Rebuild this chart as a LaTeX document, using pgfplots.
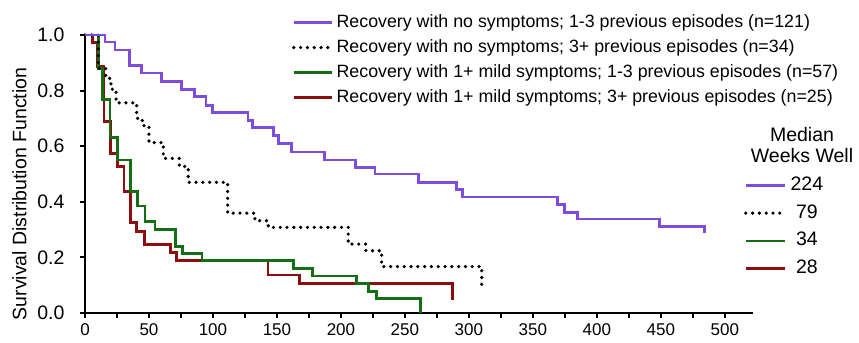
\documentclass[border=0pt]{standalone}
\usepackage{fontspec}
\setmainfont{Liberation Sans}
\usepackage{pgfplots}
\pgfplotsset{compat=1.18}
\definecolor{cpurple}{RGB}{128,76,220}
\definecolor{cgreen}{RGB}{20,110,20}
\definecolor{cred}{RGB}{140,15,15}
\begin{document}
\begin{tikzpicture}
\begin{axis}[
  scale only axis, width=668bp, height=278bp,
  xmin=0, xmax=522, ymin=0, ymax=1,
  axis x line*=bottom, axis y line*=left,
  axis line style={line width=2.2bp, black, -},
  every tick/.style={black, line width=2bp},
  tick align=outside,
  major tick length=5bp, minor tick length=5bp,
  xtick={0,50,...,500}, minor xtick={25,75,...,475},
  ytick={0,0.2,0.4,0.6,0.8,1.0},
  y tick label style={/pgf/number format/fixed, /pgf/number format/fixed zerofill, /pgf/number format/precision=1, font=\fontsize{19.5bp}{21bp}\selectfont, xshift=-12bp},
  x tick label style={font=\fontsize{17bp}{19bp}\selectfont, yshift=-4.5bp, inner sep=1bp},
  /pgf/number format/assume math mode=true,
  ylabel={Survival Distribution Function},
  every axis y label/.style={at={(axis description cs:-0.098,0.428)}, rotate=90, anchor=center, font=\fontsize{19.5bp}{22bp}\selectfont},
  clip=false,
  reverse legend,
  legend style={at={(axis description cs:0.3099,1.0745)}, anchor=north west, draw=none, fill=none,
    font=\fontsize{17.8bp}{20bp}\selectfont, row sep=8.5bp, inner sep=0pt, outer sep=0pt,
    nodes={inner sep=0pt, text height=12.8bp, text depth=3.7bp}, column sep=3bp},
  legend cell align=left,
  legend image code/.code={\draw[#1] (0bp,0bp) -- (38bp,0bp);},
]
\addplot[cred, line width=2.8bp, const plot] coordinates {
(0,1)(5.7,0.974)(9.6,0.886)(14.8,0.69)(20,0.574)(25.2,0.526)(30.5,0.436)(35.7,0.325)(40.4,0.292)(46.4,0.245)(67,0.218)(71.5,0.19)(143,0.137)(167.4,0.107)(287,0.107)(287,0.047)};
\addlegendentry{Recovery with 1+ mild symptoms; 3+ previous episodes (n=25)}
\addplot[cgreen, line width=2.8bp, const plot] coordinates {
(0,1)(10.4,0.88)(13.5,0.769)(19.5,0.632)(25.2,0.55)(35.7,0.436)(40.9,0.385)(46.9,0.329)(54.7,0.299)(70.8,0.239)(76,0.215)(91.5,0.188)(162.8,0.161)(177.6,0.133)(212.3,0.107)(221.4,0.077)(227.9,0.053)(262.3,0.053)(262.3,0)};
\addlegendentry{Recovery with 1+ mild symptoms; 1-3 previous episodes (n=57)}
\addplot[black, line width=3.6bp, line cap=round, dash pattern=on 0bp off 6.8bp, const plot] coordinates {
(0,1)(10.4,0.88)(16.2,0.844)(20.3,0.805)(24.3,0.756)(40.4,0.70)(44.8,0.674)(50,0.613)(61.2,0.556)(73.7,0.527)(80.7,0.47)(111.5,0.359)(132.8,0.332)(143.2,0.308)(205.7,0.248)(219.5,0.224)(231.8,0.167)(310,0.167)(310,0.097)};
\addlegendentry{Recovery with no symptoms; 3+ previous episodes (n=34)}
\addplot[cpurple, line width=2.8bp, const plot] coordinates {
(0,1.0)(15.6,0.975)(23.4,0.946)(34.6,0.891)(44.4,0.863)(60,0.834)(75.3,0.805)(85.3,0.778)(94.6,0.747)(99.8,0.721)(127.4,0.692)(131.1,0.667)(147,0.639)(151.2,0.609)(161.5,0.579)(187,0.55)(211.5,0.523)(226.6,0.50)(260.4,0.469)(290.4,0.445)(295.3,0.417)(369,0.389)(375,0.362)(385,0.338)(449,0.31)(484,0.31)(484,0.288)};
\addlegendentry{Recovery with no symptoms; 1-3 previous episodes (n=121)}
\end{axis}
\begin{axis}[
  scale only axis, width=668bp, height=278bp,
  xmin=0, xmax=1, ymin=0, ymax=1, hide axis, clip=false,
  legend style={at={(axis description cs:0.9865,0.4917)}, anchor=north west, draw=none, fill=none,
    font=\fontsize{19.5bp}{22bp}\selectfont, row sep=9.8bp, inner sep=0pt, outer sep=0pt,
    nodes={inner sep=0pt, text height=14bp, text depth=4bp}, column sep=4bp},
  legend cell align=center,
  legend image code/.code={\draw[#1] (0bp,0bp) -- (39bp,0bp);},
]
\addlegendimage{cpurple, line width=2.8bp}
\addlegendentry{224}
\addlegendimage{black, line width=3.6bp, line cap=round, dash pattern=on 0bp off 6.8bp}
\addlegendentry{79}
\addlegendimage{cgreen, line width=2.8bp}
\addlegendentry{34}
\addlegendimage{cred, line width=2.8bp}
\addlegendentry{28}
\node[align=center, font=\fontsize{19.5bp}{20.7bp}\selectfont, inner sep=0pt] at (axis description cs:1.0734,0.603) {Median\\Weeks Well};
\end{axis}
\pgfresetboundingbox
\path (-85bp,-30bp) rectangle (774bp,313bp);
\end{tikzpicture}
\end{document}
